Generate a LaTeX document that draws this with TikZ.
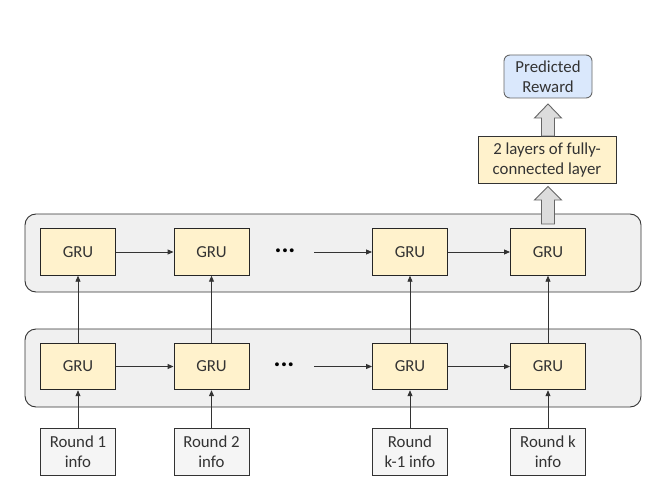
\documentclass[tikz,border=0pt]{standalone}
\usepackage{fontspec}
\setmainfont{Carlito}
\usetikzlibrary{arrows.meta}
\definecolor{gruFill}{HTML}{FFF2CC}
\definecolor{grayFill}{HTML}{F5F5F5}
\definecolor{contFill}{HTML}{F0F0F0}
\definecolor{blueFill}{HTML}{DAE8FC}
\definecolor{edgeGray}{HTML}{666666}
\definecolor{lineGray}{HTML}{333333}
\tikzset{
  txt/.style={font=\fontsize{16.8}{20}\selectfont, text=black!80, align=center, inner sep=0pt},
  container/.style={draw=lineGray, fill=contFill, rounded corners=11pt, line width=0.9pt},
  grubox/.style={txt, draw=black!85, fill=gruFill, minimum width=75pt, minimum height=46.5pt, line width=0.9pt},
  roundbox/.style={txt, draw=black!80, fill=grayFill, minimum width=75pt, minimum height=47pt, line width=0.9pt},
  fcbox/.style={txt, draw=black!80, fill=gruFill, minimum width=138pt, minimum height=47pt, line width=0.9pt},
  predbox/.style={txt, draw=edgeGray, fill=blueFill, rounded corners=6pt, minimum width=88pt, minimum height=43pt, line width=0.9pt},
  dots/.style={txt, font=\fontsize{26}{26}\selectfont\bfseries, text=black},
  conn/.style={draw=lineGray, line width=0.9pt, -{Triangle[length=6pt,width=5pt]}},
  blockarrow/.style={draw=edgeGray, fill=grayFill!90!black, line width=0.9pt, line join=miter},
}
\begin{document}
\begin{tikzpicture}[x=1pt,y=-1pt]
\useasboundingbox (0,0) rectangle (660,489);
\fill[white] (0,0) rectangle (660,489);
% containers
\draw[container] (25,214) rectangle (641,292);
\draw[container] (25,329) rectangle (641,407);
% upper GRUs
\node[grubox] (u1) at (78,252) {GRU};
\node[grubox] (u2) at (211.5,252) {GRU};
\node[grubox] (u3) at (410,252) {GRU};
\node[grubox] (u4) at (548,252) {GRU};
\node[dots] (ud) at (285,250.5) {...};
\coordinate (uds) at (314,252);
% lower GRUs
\node[grubox] (l1) at (78,366.5) {GRU};
\node[grubox] (l2) at (211.5,366.5) {GRU};
\node[grubox] (l3) at (410,366.5) {GRU};
\node[grubox] (l4) at (548,366.5) {GRU};
\node[dots] (ld) at (284,365) {...};
\coordinate (lds) at (314,366.5);
% round boxes
\node[roundbox] (r1) at (78,451.5) {Round 1\\info};
\node[roundbox] (r2) at (211.5,451.5) {Round 2\\info};
\node[roundbox] (r3) at (410,451.5) {Round\\k-1 info};
\node[roundbox] (r4) at (548,451.5) {Round k\\info};
% FC and output
\node[fcbox] (fc) at (547,160) {2 layers of fully-\\connected layer};
\node[predbox] (pr) at (548,76.5) {Predicted\\Reward};
% horizontal connectors
\draw[conn] (u1) -- (u2);
\draw[conn] (uds) -- (u3);
\draw[conn] (u3) -- (u4);
\draw[conn] (l1) -- (l2);
\draw[conn] (lds) -- (l3);
\draw[conn] (l3) -- (l4);
% vertical connectors
\foreach \i in {1,2,3,4}{
  \draw[conn] (r\i) -- (l\i);
  \draw[conn] (l\i) -- (u\i);
}
% block arrows
\draw[blockarrow] (541.5,224) -- (541.5,200) -- (534.5,200) -- (548,186.5) -- (561.5,200) -- (554.5,200) -- (554.5,224) -- cycle;
\draw[blockarrow] (541.5,136) -- (541.5,118) -- (534.5,118) -- (548,104) -- (561.5,118) -- (554.5,118) -- (554.5,136) -- cycle;
\end{tikzpicture}
\end{document}
